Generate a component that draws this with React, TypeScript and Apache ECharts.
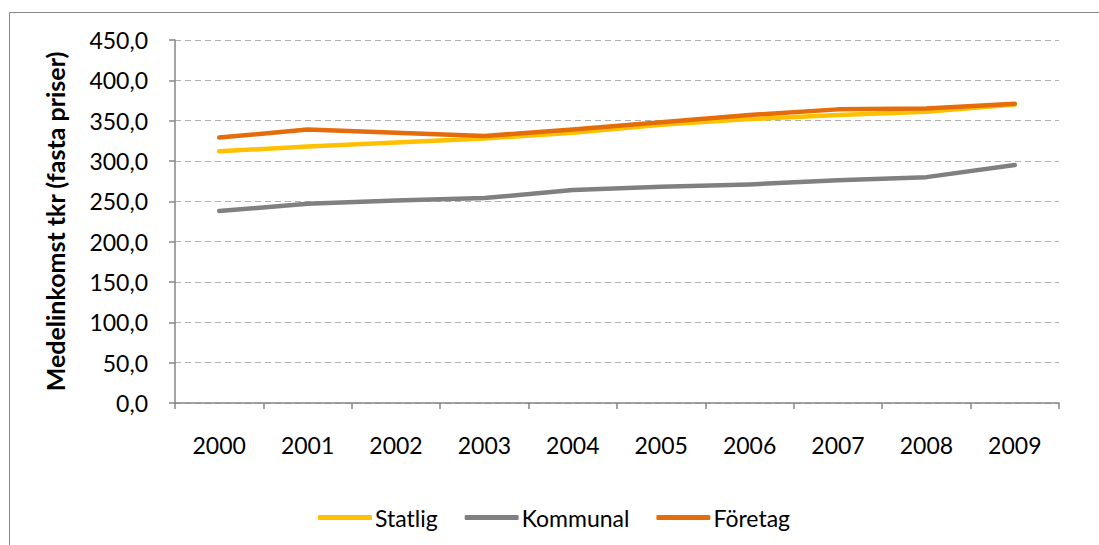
import React, { useEffect, useRef } from "react";
import * as echarts from "echarts";

const years = ["2000", "2001", "2002", "2003", "2004", "2005", "2006", "2007", "2008", "2009"];
const statlig = [312, 318, 323, 328, 335, 345, 352, 357, 361, 370];
const kommunal = [238, 247, 251, 254, 264, 268, 271, 276, 280, 295];
const foretag = [329, 339, 335, 331, 339, 348, 357, 364, 365, 371];
const yTitle = "Medelinkomst tkr (fasta priser)";

const FONT = "Lato, 'Open Sans', sans-serif";

export default function App() {
  const ref = useRef<HTMLDivElement>(null);
  useEffect(() => {
    if (!ref.current) return;
    const chart = echarts.init(ref.current, null, { renderer: "svg" });
    const mk = (name: string, data: number[], color: string) => ({
      name,
      type: "line",
      data,
      symbol: "none",
      lineStyle: { color, width: 4.5, cap: "round", join: "round" },
      itemStyle: { color },
      z: name === "Företag" ? 4 : name === "Statlig" ? 3 : 2,
    });
    chart.setOption({
      animation: false,
      backgroundColor: "#ffffff",
      textStyle: { fontFamily: FONT },
      graphic: [
        {
          type: "rect",
          shape: { x: 9.5, y: 12.5, width: 1200, height: 1200 },
          style: { fill: "none", stroke: "#888888", lineWidth: 1 },
          silent: true,
        },
      ],
      grid: { left: 175, right: 40, top: 40, bottom: 142, containLabel: false },
      legend: {
        top: 501,
        left: 313,
        itemWidth: 54,
        itemHeight: 5,
        itemGap: 27,
        icon: "roundRect",
        textStyle: { fontSize: 23, color: "#000", fontFamily: FONT, padding: [0, 0, 0, -2] },
        data: ["Statlig", "Kommunal", "Företag"],
      },
      xAxis: {
        type: "category",
        data: years,
        boundaryGap: true,
        axisLine: { lineStyle: { color: "#868686", width: 1.5 } },
        axisTick: { show: true, length: 6, lineStyle: { color: "#868686", width: 1.5 } },
        axisLabel: { color: "#000", fontSize: 23, margin: 30, fontFamily: FONT },
      },
      yAxis: {
        type: "value",
        min: 0,
        max: 450,
        interval: 50,
        name: yTitle,
        nameLocation: "middle",
        nameGap: 108,
        nameRotate: 90,
        nameTextStyle: { fontSize: 25, fontWeight: "bold", color: "#000", fontFamily: FONT },
        axisLine: { show: true, lineStyle: { color: "#868686", width: 1.5 } },
        axisTick: { show: true, length: 6, lineStyle: { color: "#868686", width: 1.5 } },
        axisLabel: {
          color: "#000",
          fontSize: 23,
          margin: 27,
          fontFamily: FONT,
          formatter: (v: number) => v.toFixed(1).replace(".", ","),
        },
        splitLine: { show: true, lineStyle: { color: "#b0b0b0", type: [6, 4], width: 1 } },
      },
      series: [
        mk("Statlig", statlig, "#FFC000"),
        mk("Kommunal", kommunal, "#808080"),
        mk("Företag", foretag, "#E46C0A"),
      ],
    });
    return () => chart.dispose();
  }, []);
  return (
    <div
      ref={ref}
      style={{ position: "fixed", left: 0, top: 0, width: 1099, height: 545 }}
    />
  );
}
